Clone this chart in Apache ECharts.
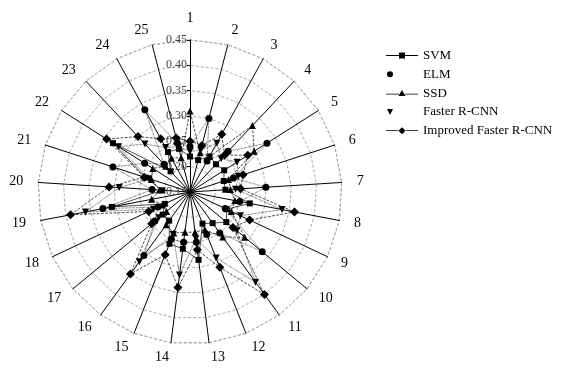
<!DOCTYPE html>
<html><head><meta charset="utf-8">
<script src="https://cdn.jsdelivr.net/npm/echarts@6/dist/echarts.min.js"></script>
<style>html,body{margin:0;padding:0;background:#fff}#c{width:571px;height:373px}</style>
</head><body><div id="c"></div>
<script>
const categories = ['1','2','3','4','5','6','7','8','9','10','11','12','13','14','15','16','17','18','19','20','21','22','23','24','25'];
const seriesNames = ['SVM','ELM','SSD','Faster R-CNN','Improved Faster R-CNN'];
const svm      = [0.22, 0.215, 0.23, 0.225, 0.23, 0.22, 0.22, 0.27, 0.23, 0.243, 0.226, 0.217, 0.285, 0.263, 0.26, 0.22, 0.22, 0.205, 0.307, 0.205, 0.242, 0.33, 0.206, 0.24, 0.238];
const elm      = [0.24, 0.30, 0.22, 0.26, 0.33, 0.24, 0.30, 0.25, 0.227, 0.335, 0.25, 0.24, 0.25, 0.25, 0.25, 0.305, 0.24, 0.22, 0.325, 0.225, 0.31, 0.256, 0.225, 0.335, 0.25];
const ssd      = [0.31, 0.23, 0.23, 0.33, 0.30, 0.23, 0.23, 0.24, 0.24, 0.29, 0.26, 0.23, 0.23, 0.23, 0.237, 0.23, 0.21, 0.21, 0.227, 0.21, 0.23, 0.237, 0.22, 0.226, 0.22];
const faster   = [0.23, 0.235, 0.26, 0.24, 0.26, 0.25, 0.24, 0.335, 0.26, 0.27, 0.37, 0.29, 0.243, 0.315, 0.24, 0.32, 0.23, 0.23, 0.36, 0.29, 0.235, 0.317, 0.28, 0.25, 0.242];
const improved = [0.25, 0.245, 0.28, 0.25, 0.285, 0.26, 0.25, 0.36, 0.28, 0.26, 0.40, 0.31, 0.265, 0.34, 0.283, 0.35, 0.248, 0.24, 0.39, 0.31, 0.245, 0.345, 0.30, 0.27, 0.26];
const radialMin = 0.15, radialMax = 0.45, radialSplits = 6;

const font = 'Liberation Serif';
const values = [svm, elm, ssd, faster, improved];
// ECharts radar runs counter-clockwise; reorder so the categories run clockwise from the top
const order = [0].concat(categories.map((_, i) => categories.length - 1 - i).slice(0, categories.length - 1));
const symbols = ['rect', 'circle', 'triangle', 'path://M0,0 L10,0 L5,9 Z', 'diamond'];
const symbolSizes = [6, 7, 7, 7, 9];
const lineTypes = ['solid', 'dotted', 'dashed', 'dotted', 'dashed'];
const tiny = 'M31.95,3.4h0.05v0.05h-0.05z';
const legendIcons = [
  'path://M0,3.1h13v0.8h-13z M13,0.5h6v6h-6z M19,3.1h13v0.8h-13z',
  'path://M4,0.5a3,3 0 1,0 0.001,0z M0,0h0.04v0.04h-0.04z M0,6.96h0.04v0.04h-0.04z ' + tiny,
  'path://M0,4.1h13v0.8h-13z M16,0.5 L19.5,6.5 L12.5,6.5 Z M19,4.1h13v0.8h-13z',
  'path://M1,0.5 L7,0.5 L4,6.5 Z M0,0h0.04v0.04h-0.04z M0,6.96h0.04v0.04h-0.04z ' + tiny,
  'path://M0,3.1h12v0.8h-12z M16,0 L19.6,3.5 L16,7 L12.4,3.5 Z M20,3.1h12v0.8h-12z'
];

const chart = echarts.init(document.getElementById('c'));
chart.setOption({
  animation: false,
  backgroundColor: '#fff',
  legend: {
    orient: 'vertical', left: 381, top: 44, itemWidth: 32, itemHeight: 7, itemGap: 5.8,
    textStyle: { fontFamily: font, fontSize: 13, color: '#000' },
    data: seriesNames.map((n, i) => ({ name: n, icon: legendIcons[i], itemStyle: { color: '#000' } }))
  },
  radar: {
    center: [190, 192], radius: 152, startAngle: 90, shape: 'polygon', splitNumber: radialSplits,
    axisName: { color: '#000', fontFamily: font, fontSize: 14 },
    nameGap: 15,
    axisLine: { lineStyle: { color: '#000', width: 1 } },
    splitLine: { lineStyle: { color: '#aaa', width: 1, type: [3, 2] } },
    splitArea: { show: false },
    indicator: order.map((k, i) => ({
      name: categories[k], min: radialMin, max: radialMax,
      axisLabel: i === 0 ? { show: true, fontFamily: font, fontSize: 12, color: '#444', margin: 3,
        formatter: v => (+v).toFixed(2) } : { show: false },
      axisTick: i === 0 ? { show: true, length: 3, lineStyle: { color: '#000' } } : { show: false }
    }))
  },
  series: [{
    type: 'radar',
    data: seriesNames.map((n, i) => ({
      name: n, value: order.map(k => values[i][k]), symbol: symbols[i], symbolSize: symbolSizes[i],
      itemStyle: { color: '#000' },
      lineStyle: { color: '#000', width: 0.7, type: lineTypes[i] }
    }))
  }]
});
</script></body></html>
